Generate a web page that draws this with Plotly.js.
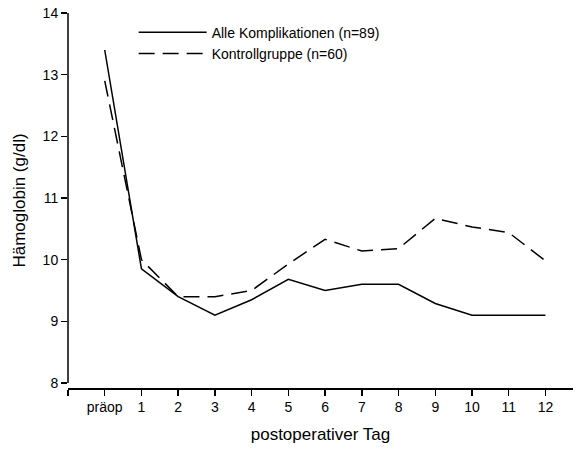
<!DOCTYPE html>
<html><head><meta charset="utf-8">
<script src="https://cdn.plot.ly/plotly-3.0.1.min.js"></script>
<style>html,body{margin:0;padding:0;background:#fff}</style>
</head><body><div id="chart" style="width:577px;height:452px"></div>
<script>
const days = [0,1,2,3,4,5,6,7,8,9,10,11,12];
const tickValues = [-1,0,1,2,3,4,5,6,7,8,9,10,11,12];
const tickLabels = ['', 'präop','1','2','3','4','5','6','7','8','9','10','11','12'];
const alleKomplikationen = [13.4,9.85,9.4,9.1,9.35,9.68,9.5,9.6,9.6,9.29,9.1,9.1,9.1];
const kontrollgruppe = [12.9,10.0,9.4,9.4,9.5,9.93,10.33,10.14,10.18,10.67,10.53,10.44,9.98];

const font = {family:'"Liberation Sans", Arial, sans-serif', color:'#000'};
const traces = [
  {x:days, y:alleKomplikationen, type:'scatter', mode:'lines', name:'Alle Komplikationen (n=89)',
   line:{color:'#000', width:1.5, dash:'solid'}},
  {x:days, y:kontrollgruppe, type:'scatter', mode:'lines', name:'Kontrollgruppe (n=60)',
   line:{color:'#000', width:1.5, dash:'16px,8px'}}
];
const layout = {
  width:577, height:452,
  margin:{l:68, r:4, t:13, b:64},
  paper_bgcolor:'#fff', plot_bgcolor:'#fff',
  font:Object.assign({size:14}, font),
  showlegend:true,
  legend:{x:0.13, y:0.99, xanchor:'left', yanchor:'top', bgcolor:'rgba(0,0,0,0)',
          font:Object.assign({size:14}, font), itemwidth:68, tracegroupgap:0},
  xaxis:{range:[-1,12.75], tickvals:tickValues, ticktext:tickLabels, showgrid:false, zeroline:false,
         showline:true, linecolor:'#000', linewidth:1.5, ticks:'outside', ticklen:6, tickwidth:1.5, tickcolor:'#000',
         tickfont:Object.assign({size:14}, font),
         title:{text:'postoperativer Tag', font:Object.assign({size:17}, font), standoff:14}},
  yaxis:{range:[7.919,14], tickvals:[8,9,10,11,12,13,14], showgrid:false, zeroline:false,
         showline:false, ticks:'outside', ticklen:6, tickwidth:1.5, tickcolor:'#000',
         tickfont:Object.assign({size:14}, font),
         title:{text:'Hämoglobin (g/dl)', font:Object.assign({size:17}, font), standoff:12}},
  shapes:[{type:'line', xref:'paper', yref:'y', x0:0, x1:0, y0:8, y1:14, line:{color:'#000', width:1.5}}]
};
Plotly.newPlot('chart', traces, layout, {displayModeBar:false, staticPlot:true});
</script></body></html>
